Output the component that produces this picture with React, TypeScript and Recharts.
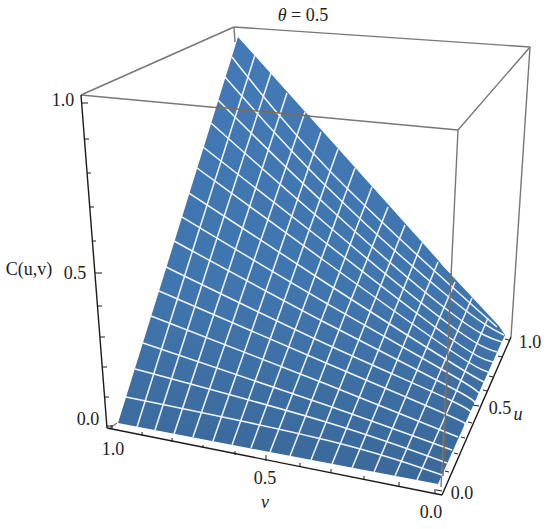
import { Area, ComposedChart, Line, Scatter, XAxis, YAxis } from "recharts";

type Pt = [number, number];

// surface outline: x, upper edge y, lower edge y
const surfaceX = [118, 238, 438, 442, 499, 505];
const surfaceTop = [423, 37, 260, 265, 326, 335];
const surfaceBottom = [423, 446, 484, 475, 348, 335];

// mesh lines of constant u, left edge to lower right edge
const uMesh: Pt[][] = [
  [[232, 57], [326, 167], [450, 285], [497, 327]],
  [[225, 77], [326, 186], [450, 298], [504, 335]],
  [[218, 100], [326, 205], [450, 312], [502, 342]],
  [[211, 123], [326, 224], [450, 325], [497, 352]],
  [[203, 147], [326, 243], [450, 338], [493, 362]],
  [[197, 168], [326, 262], [450, 350], [488, 372]],
  [[189, 193], [326, 283], [450, 362], [484, 382]],
  [[182, 217], [326, 303], [450, 374], [479, 393]],
  [[174, 241], [326, 323], [450, 387], [475, 403]],
  [[166, 267], [326, 344], [450, 400], [470, 414]],
  [[159, 291], [326, 363], [450, 416], [464, 425]],
  [[151, 316], [326, 384], [458, 437]],
  [[143, 343], [326, 405], [452, 450]],
  [[135, 369], [326, 422], [447, 463]],
  [[126, 397], [326, 440], [442, 475]],
];

// mesh lines of constant v: bottom edge, middle, upper right edge
const vMesh: Pt[][] = [
  [[137, 427], [201, 224], [255, 55]],
  [[155, 430], [218, 235], [271, 73]],
  [[174, 434], [236, 248], [287, 93]],
  [[193, 437], [254, 260], [305, 112]],
  [[213, 441], [272, 273], [321, 132]],
  [[232, 445], [290, 284], [338, 149]],
  [[251, 448], [308, 295], [355, 168]],
  [[270, 452], [326, 308], [372, 187]],
  [[290, 456], [343, 320], [388, 207]],
  [[311, 460], [362, 332], [405, 225]],
  [[332, 464], [381, 344], [422, 243]],
  [[352, 468], [399, 356], [438, 262]],
  [[374, 472], [418, 368], [455, 282]],
  [[395, 476], [437, 379], [472, 298]],
  [[417, 480], [456, 392], [488, 318]],
];

const boxEdges: Pt[][] = [
  [[81, 95], [234, 27]],
  [[234, 27], [530, 47]],
  [[81, 95], [458, 130]],
  [[458, 130], [530, 47]],
  [[458, 130], [441, 487]],
  [[530, 47], [511, 337]],
  [[234, 27], [235, 42]],
  [[110, 428], [117, 423]],
];

const seenThrough: Pt[][] = [
  [[216, 107], [310, 116]],
  [[451, 273], [443, 476]],
];

const axisEdges: Pt[][] = [
  [[81, 95], [107, 428]],
  [[107, 428], [442, 495]],
  [[442, 495], [511, 337]],
];

const zTicks: Pt[][] = [
  [[82, 103], [88, 103]],
  [[85, 139], [89, 139]],
  [[87, 173], [91, 173]],
  [[90, 207], [94, 207]],
  [[93, 241], [96, 241]],
  [[95, 273], [102, 273]],
  [[98, 306], [102, 306]],
  [[100, 337], [105, 337]],
  [[102, 367], [107, 367]],
  [[105, 397], [109, 397]],
  [[107, 426], [112, 426]],
];

const vTicks: Pt[][] = [
  [[112, 429], [112, 425]],
  [[142, 436], [142, 432]],
  [[172, 442], [172, 438]],
  [[203, 448], [203, 445]],
  [[235, 455], [235, 451]],
  [[266, 461], [266, 455]],
  [[300, 467], [300, 463]],
  [[331, 473], [331, 469]],
  [[364, 480], [364, 476]],
  [[399, 486], [399, 482]],
  [[435, 493], [435, 489]],
];

const uTicks: Pt[][] = [
  [[509, 340], [505, 339]],
  [[502, 357], [498, 356]],
  [[493, 377], [489, 376]],
  [[487, 391], [483, 390]],
  [[479, 406], [473, 405]],
  [[472, 423], [468, 422]],
  [[465, 438], [461, 437]],
  [[458, 454], [454, 453]],
  [[449, 472], [445, 471]],
  [[442, 491], [436, 490]],
];

const labels = [
  { x: 63, y: 100, text: "1.0" },
  { x: 75, y: 273, text: "0.5" },
  { x: 88, y: 419, text: "0.0" },
  { x: 29, y: 269, text: "C(u,v)" },
  { x: 113, y: 449, text: "1.0" },
  { x: 265, y: 478, text: "0.5" },
  { x: 431, y: 512, text: "0.0" },
  { x: 530, y: 342, text: "1.0" },
  { x: 500, y: 408, text: "0.5" },
  { x: 462, y: 493, text: "0.0" },
];

const italicLabels = [
  { x: 265, y: 502, text: "v" },
  { x: 518, y: 414, text: "u" },
];

const titleLabel = [{ x: 303, y: 15, text: "0.5" }];

const surfaceData = surfaceX.map((x, i) => ({
  x,
  range: [surfaceTop[i], surfaceBottom[i]],
}));

const toRows = (pts: Pt[]) => pts.map(([x, y]) => ({ x, y }));

const serif = "'Liberation Serif', serif";

const drawLabel = (props: any) => (
  <text x={props.cx} y={props.cy} textAnchor="middle" dominantBaseline="central" fontFamily={serif} fontSize={18} fill="#222">
    {props.payload.text}
  </text>
);

const drawItalic = (props: any) => (
  <text x={props.cx} y={props.cy} textAnchor="middle" dominantBaseline="central" fontFamily={serif} fontStyle="italic" fontSize={18} fill="#222">
    {props.payload.text}
  </text>
);

const drawTitle = (props: any) => (
  <text x={props.cx} y={props.cy} textAnchor="middle" dominantBaseline="central" fontFamily={serif} fontSize={18} fill="#222">
    <tspan fontStyle="italic">θ</tspan> = {props.payload.text}
  </text>
);

function segments(group: Pt[][], name: string, stroke: string, width: number, curve: "linear" | "natural" = "linear") {
  return group.map((pts, i) => (
    <Line
      key={`${name}-${i}`}
      data={toRows(pts)}
      dataKey="y"
      type={curve}
      stroke={stroke}
      strokeWidth={width}
      dot={false}
      legendType="none"
      isAnimationActive={false}
    />
  ));
}

export default function App() {
  return (
    <div style={{ position: "absolute", left: 0, top: 0, width: 550, height: 529 }}>
      <ComposedChart width={550} height={529} margin={{ top: 0, right: 0, bottom: 0, left: 0 }}>
        <defs>
          <linearGradient id="surfaceFill" x1="0" y1="0" x2="0" y2="1">
            <stop offset="0%" stopColor="#4379B5" />
            <stop offset="55%" stopColor="#4076AF" />
            <stop offset="100%" stopColor="#3A6899" />
          </linearGradient>
        </defs>
        <XAxis type="number" dataKey="x" domain={[0, 550]} hide allowDataOverflow />
        <YAxis type="number" dataKey="y" domain={[0, 529]} reversed hide allowDataOverflow />
        {segments(boxEdges, "box", "#777777", 1.4)}
        <Area
          data={surfaceData}
          dataKey="range"
          type="linear"
          fill="url(#surfaceFill)"
          fillOpacity={1}
          stroke="none"
          dot={false}
          isAnimationActive={false}
        />
        {segments(uMesh, "u", "#F2F6FA", 1.5, "natural")}
        {segments(vMesh, "v", "#F2F6FA", 1.5, "natural")}
        {segments(seenThrough, "through", "#7A6A5C", 1.4)}
        {segments(axisEdges, "axis", "#1A1A1A", 1.4)}
        {segments(zTicks, "zt", "#1A1A1A", 1)}
        {segments(vTicks, "vt", "#1A1A1A", 1)}
        {segments(uTicks, "ut", "#1A1A1A", 1)}
        <Scatter data={labels} shape={drawLabel} isAnimationActive={false} />
        <Scatter data={italicLabels} shape={drawItalic} isAnimationActive={false} />
        <Scatter data={titleLabel} shape={drawTitle} isAnimationActive={false} />
      </ComposedChart>
    </div>
  );
}
